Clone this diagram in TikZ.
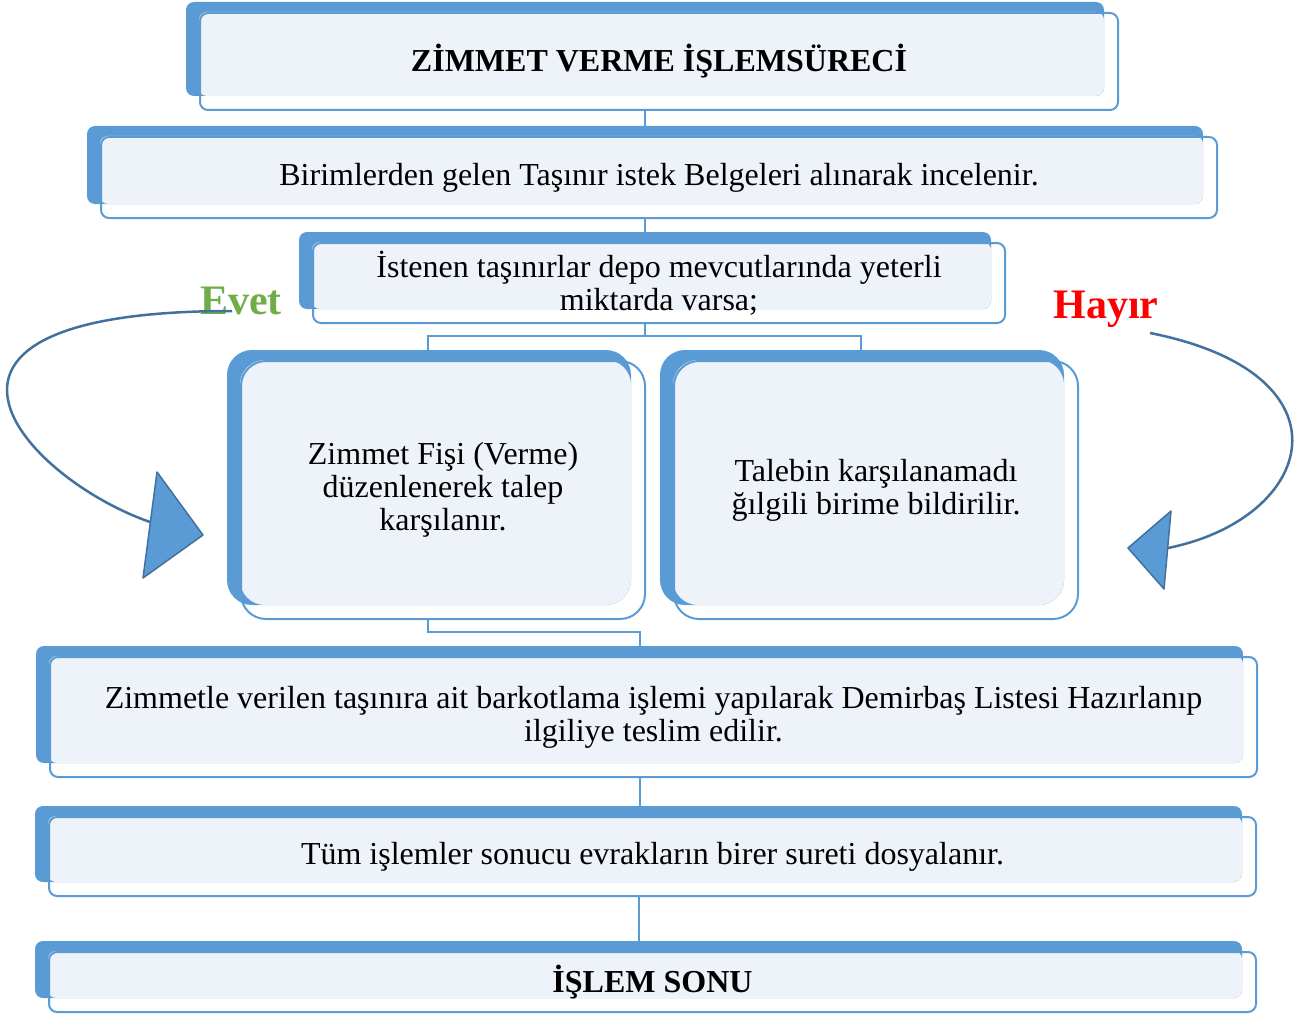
\documentclass[tikz,border=0pt]{standalone}
\usepackage{fontspec}
\setmainfont{Liberation Serif}
\usetikzlibrary{positioning, calc, backgrounds}

\definecolor{boxblue}{HTML}{5B9BD5}
\definecolor{boxfill}{HTML}{EEF3FA}
\definecolor{curveblue}{HTML}{41719C}
\definecolor{evetgreen}{HTML}{70AD47}

\pgfdeclarelayer{links}
\pgfdeclarelayer{under}
\pgfsetlayers{links,under,main}

\tikzset{
  frame/.style={draw=boxblue, line width=2pt, rounded corners=8pt, inner sep=0pt,
    align=center, font=\fontsize{32}{33}\selectfont},
  back/.style={fill=boxblue, rounded corners=8pt},
  front/.style={fill=boxfill, rounded corners=8pt},
  link/.style={draw=boxblue, line width=2pt},
  swoop/.style={draw=curveblue, line width=2.5pt},
  tip/.style={fill=boxblue, draw=curveblue, line width=1.5pt, line join=round},
  answer/.style={font=\fontsize{42}{42}\selectfont\bfseries}
}

\begin{document}
\begin{tikzpicture}[x=1pt, y=-1pt]
\useasboundingbox (0,0) rectangle (1299,1014);

% boxes
\node[frame, minimum width=918pt, minimum height=97pt] (title) at (659,61.5) {\bfseries ZİMMET VERME İŞLEMSÜRECİ};
\node[frame, minimum width=1116pt, minimum height=81pt] (request) at (659,177.5) {Birimlerden gelen Taşınır istek Belgeleri alınarak incelenir.};
\node[frame, minimum width=692pt, minimum height=80pt] (check) at (659,283) {İstenen taşınırlar depo mevcutlarında yeterli\\miktarda varsa;};
\node[frame, rounded corners=25pt, minimum width=404pt, minimum height=258pt] (yes) at (443,490) {Zimmet Fişi (Verme)\\düzenlenerek talep\\karşılanır.};
\node[frame, rounded corners=25pt, minimum width=404pt, minimum height=258pt] (no) at (876,490) {Talebin karşılanamadı\\ğılgili birime bildirilir.};
\node[frame, minimum width=1207pt, minimum height=120pt] (barcode) at (653.5,717) {Zimmetle verilen taşınıra ait barkotlama işlemi yapılarak Demirbaş Listesi Hazırlanıp\\ilgiliye teslim edilir.};
\node[frame, minimum width=1207pt, minimum height=79pt] (archive) at (652.5,856.5) {Tüm işlemler sonucu evrakların birer sureti dosyalanır.};
\node[frame, minimum width=1207pt, minimum height=60pt] (finish) at (652.5,982) {\bfseries İŞLEM SONU};

\begin{pgfonlayer}{under}
\fill[back] ([shift={(-13pt,10pt)}]title.north west) rectangle ([shift={(-15pt,15pt)}]title.south east);
\fill[front] (title.north west) rectangle ([shift={(-15pt,15pt)}]title.south east);
\fill[back] ([shift={(-13pt,10pt)}]request.north west) rectangle ([shift={(-15pt,15pt)}]request.south east);
\fill[front] (request.north west) rectangle ([shift={(-15pt,15pt)}]request.south east);
\fill[back] ([shift={(-13pt,10pt)}]check.north west) rectangle ([shift={(-15pt,15pt)}]check.south east);
\fill[front] (check.north west) rectangle ([shift={(-15pt,15pt)}]check.south east);
\fill[back, rounded corners=25pt] ([shift={(-13pt,10pt)}]yes.north west) rectangle ([shift={(-15pt,15pt)}]yes.south east);
\fill[front, rounded corners=25pt] (yes.north west) rectangle ([shift={(-15pt,15pt)}]yes.south east);
\fill[back, rounded corners=25pt] ([shift={(-13pt,10pt)}]no.north west) rectangle ([shift={(-15pt,15pt)}]no.south east);
\fill[front, rounded corners=25pt] (no.north west) rectangle ([shift={(-15pt,15pt)}]no.south east);
\fill[back] ([shift={(-13pt,10pt)}]barcode.north west) rectangle ([shift={(-15pt,15pt)}]barcode.south east);
\fill[front] (barcode.north west) rectangle ([shift={(-15pt,15pt)}]barcode.south east);
\fill[back] ([shift={(-13pt,10pt)}]archive.north west) rectangle ([shift={(-15pt,15pt)}]archive.south east);
\fill[front] (archive.north west) rectangle ([shift={(-15pt,15pt)}]archive.south east);
\fill[back] ([shift={(-13pt,10pt)}]finish.north west) rectangle ([shift={(-15pt,15pt)}]finish.south east);
\fill[front] (finish.north west) rectangle ([shift={(-15pt,15pt)}]finish.south east);
\end{pgfonlayer}

% connectors
\begin{pgfonlayer}{links}
\draw[link] ([xshift=-14pt]title.south) -- ([xshift=-14pt]title.south |- request.north);
\draw[link] ([xshift=-14pt]request.south) -- ([xshift=-14pt]request.south |- check.north);
\draw[link] ([xshift=-14pt]check.south) -- ++(0,12) -| ([xshift=-15pt]yes.north);
\draw[link] ([xshift=-14pt]check.south) -- ++(0,12) -| ([xshift=-15pt]no.north);
\draw[link] ([xshift=-15pt]yes.south) -- ++(0,12) -| ([xshift=-14pt]barcode.north);
\draw[link] ([xshift=-14pt]barcode.south) -- ([xshift=-14pt]barcode.south |- archive.north);
\draw[link] ([xshift=-14pt]archive.south) -- ([xshift=-14pt]archive.south |- finish.north);
\end{pgfonlayer}

% yes / no arrows
\node[answer, text=evetgreen] (evet) at (241,301) {Evet};
\node[answer, text=red] (hayir) at (1106,309) {Hayır};
\coordinate (evetfrom) at (232,311);
\coordinate (evetto) at (150,522);
\coordinate (hayirfrom) at (1150,333);
\coordinate (hayirto) at (1168,548);
\draw[swoop] (evetfrom) .. controls (-130,311) and (24,478) .. (evetto);
\draw[tip] (157,472) -- (203,535) -- (143,578) -- cycle;
\draw[swoop] (hayirfrom) .. controls (1357,374) and (1316,518) .. (hayirto);
\draw[tip] (1171,511) -- (1128,548) -- (1164,589) -- cycle;
\end{tikzpicture}
\end{document}
